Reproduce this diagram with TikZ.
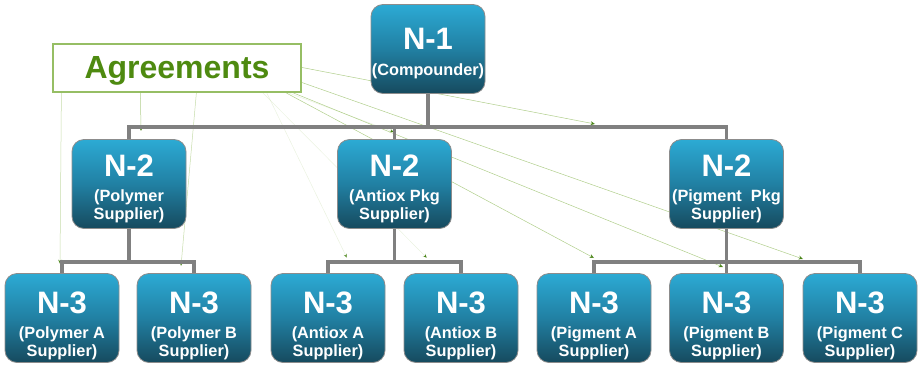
\documentclass[tikz,border=0pt]{standalone}
\usepackage{fontspec}
\setmainfont{Liberation Sans}
\usetikzlibrary{arrows.meta,backgrounds,calc}

\definecolor{boxtop}{RGB}{44,170,212}
\definecolor{boxmid}{RGB}{33,128,163}
\definecolor{boxbot}{RGB}{22,74,94}
\definecolor{boxedge}{RGB}{140,140,140}
\definecolor{linkgray}{RGB}{128,128,128}
\definecolor{agtext}{RGB}{78,138,16}
\definecolor{agedge}{RGB}{150,190,100}
\definecolor{arrowline}{RGB}{150,190,100}
\definecolor{arrowtip}{RGB}{70,130,20}

\tikzset{
  unitbox/.style={draw=boxedge, line width=0.8pt, rounded corners=12pt,
    minimum width=114pt, minimum height=89pt, inner sep=0pt,
    top color=boxtop, bottom color=boxbot, middle color=boxmid},
  title/.style={text=white, inner sep=0pt,
    font=\fontsize{31}{31}\selectfont\bfseries},
  sub/.style={text=white, inner sep=0pt, align=center,
    font=\fontsize{16.3}{18}\selectfont\bfseries},
  link/.style={draw=linkgray, line width=3.2pt},
  agreebox/.style={draw=agedge, line width=1.2pt, fill=white,
    minimum width=248pt, minimum height=48pt, inner sep=0pt,
    text=agtext, text depth=2pt, font=\fontsize{32}{32}\selectfont\bfseries},
  pointer/.style={draw=arrowline, line width=0.5pt,
    -{Stealth[length=4.5pt,width=4pt,color=arrowtip]}},
  midpointer/.style={pointer, draw opacity=0.75},
  faintpointer/.style={pointer, draw opacity=0.2}
}

\begin{document}
\begin{tikzpicture}[x=1pt,y=-1pt]
\useasboundingbox (0,0) rectangle (918,364);

% ---- supplier boxes ----
\node[unitbox] (n1)  at (428,49)    {};
\node[unitbox] (n2a) at (129,184)   {};
\node[unitbox] (n2b) at (394.5,184) {};
\node[unitbox] (n2c) at (726.5,184) {};
\node[unitbox] (n3a) at (62,318)    {};
\node[unitbox] (n3b) at (194,318)   {};
\node[unitbox] (n3c) at (328,318)   {};
\node[unitbox] (n3d) at (461,318)   {};
\node[unitbox] (n3e) at (594,318)   {};
\node[unitbox] (n3f) at (726.5,318) {};
\node[unitbox] (n3g) at (860,318)   {};

% ---- box labels ----
\node[title] (n1t) at ($(n1)+(0,-10)$) {N-1};
\node[sub]   (n1s) at ($(n1)+(0,22.5)$) {(Compounder)};

\node[title] (n2at) at ($(n2a)+(0,-18)$) {N-2};
\node[sub]   (n2as) at ($(n2a)+(0,22.5)$) {(Polymer\\Supplier)};
\node[title] (n2bt) at ($(n2b)+(0,-18)$) {N-2};
\node[sub]   (n2bs) at ($(n2b)+(0,22.5)$) {(Antiox Pkg\\Supplier)};
\node[title] (n2ct) at ($(n2c)+(0,-18)$) {N-2};
\node[sub]   (n2cs) at ($(n2c)+(0,22.5)$) {(Pigment~ Pkg\\Supplier)};

\foreach \b/\t in {n3a/Polymer A, n3b/Polymer B, n3c/Antiox A, n3d/Antiox B,
                   n3e/Pigment A, n3f/Pigment B, n3g/Pigment C}{
  \node[title] (\b t) at ($(\b)+(0,-15)$) {N-3};
  \node[sub]   (\b s) at ($(\b)+(0,25.5)$) {(\t\\Supplier)};
}

% ---- hierarchy connectors ----
\coordinate (j1)  at (428,127);
\coordinate (j2a) at (129,262);
\coordinate (j2b) at (394.5,262);
\coordinate (j2c) at (726.5,262);

\draw[link] (n1.south) -- (j1);
\draw[link] (j1) -| (n2a.north);
\draw[link] (j1) -| (n2c.north);
\draw[link] (n2b.north) |- (j1);

\draw[link] (n2a.south) -- (j2a);
\draw[link] (j2a) -| (n3a.north);
\draw[link] (j2a) -| (n3b.north);

\draw[link] (n2b.south) -- (j2b);
\draw[link] (j2b) -| (n3c.north);
\draw[link] (j2b) -| (n3d.north);

\draw[link] (n2c.south) -- (j2c);
\draw[link] (j2c) -| (n3e.north);
\draw[link] (j2c) -| (n3g.north);
\draw[link] (j2c) -- (n3f.north);

% ---- agreements label ----
\node[agreebox] (ag) at (177,68) {Agreements};

% ---- agreement pointers, behind the boxes ----
\coordinate (pa) at (60,264);
\coordinate (pb) at (141,131);
\coordinate (pc) at (181,266);
\coordinate (pd) at (595,124);
\coordinate (pe) at (803,259);
\coordinate (pf) at (723,267);
\coordinate (pg) at (594,258);
\coordinate (ph) at (427,258);
\coordinate (pi) at (394,132);
\coordinate (pj) at (347,258);

\begin{scope}[on background layer]
  \draw[pointer, draw opacity=0.55] ($(ag.south west)+(9,0)$)   -- (pa);
  \draw[midpointer]                 ($(ag.south west)+(88,0)$)  -- (pb);
  \draw[pointer, draw opacity=0.55] ($(ag.south west)+(144,0)$) -- (pc);
  \draw[midpointer]   ($(ag.north east)+(0,24)$)  -- (pd);
  \draw[midpointer]   ($(ag.north east)+(0,39)$)  -- (pe);
  \draw[midpointer]   ($(ag.south east)+(-9,0)$)  -- (pf);
  \draw[midpointer]   ($(ag.south east)+(-16,0)$) -- (pg);
  \draw[faintpointer] ($(ag.south east)+(-14,0)$) -- (pi);
  \draw[faintpointer] ($(ag.south east)+(-39,0)$) -- (ph);
  \draw[faintpointer] ($(ag.south east)+(-35,0)$) -- (pj);
\end{scope}
\end{tikzpicture}
\end{document}
